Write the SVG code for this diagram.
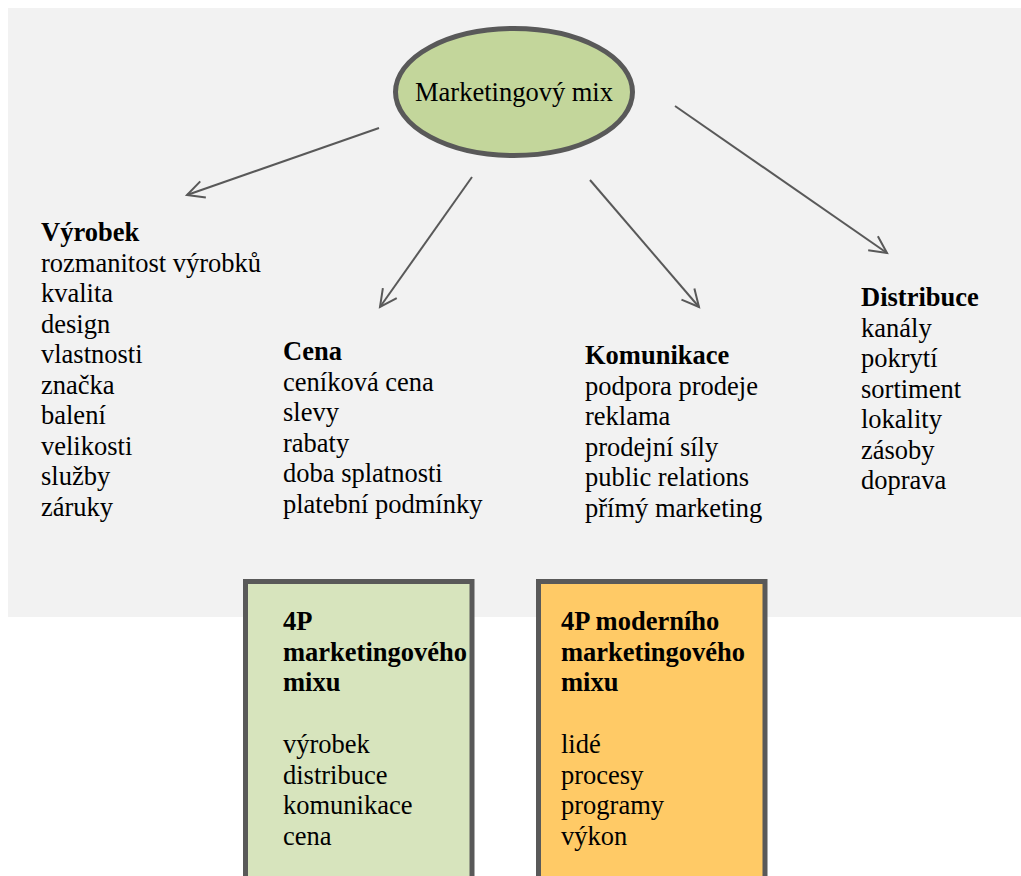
<svg xmlns="http://www.w3.org/2000/svg" width="1021" height="876" viewBox="0 0 1021 876">
<style>
text{font-family:"Liberation Serif","Times New Roman",serif;font-size:26.5px;fill:#000}
.b{font-weight:bold}
.con{stroke:#595959;stroke-width:2;fill:none}
.box{stroke:#595959;stroke-width:5}
</style>
<defs>
<marker id="arr" viewBox="-18 -10 20 20" markerWidth="20" markerHeight="20" refX="0" refY="0" orient="auto" markerUnits="userSpaceOnUse" overflow="visible">
<path d="M-17,-8.5 L0,0 L-17,8.5" fill="none" stroke="#595959" stroke-width="2"/>
</marker>
</defs>
<rect x="0" y="0" width="1021" height="876" fill="#ffffff"/>
<rect id="background" x="8" y="8" width="1013" height="609" fill="#f2f2f2"/>
<g id="connectors">
<line class="con" x1="379" y1="128" x2="187" y2="195" marker-end="url(#arr)"/>
<line class="con" x1="472" y1="177" x2="380" y2="307" marker-end="url(#arr)"/>
<line class="con" x1="590" y1="180" x2="699" y2="307" marker-end="url(#arr)"/>
<line class="con" x1="675" y1="106" x2="887" y2="253" marker-end="url(#arr)"/>
</g>
<g id="root">
<ellipse cx="514" cy="92" rx="118.5" ry="63.5" fill="#c3d69b" stroke="#595959" stroke-width="5"/>
<text x="514" y="101" text-anchor="middle">Marketingový mix</text>
</g>
<g id="vyrobek">
<text x="41" y="241" class="b">Výrobek</text>
<text x="41" y="271.5">rozmanitost výrobků</text>
<text x="41" y="302">kvalita</text>
<text x="41" y="332.5">design</text>
<text x="41" y="363">vlastnosti</text>
<text x="41" y="393.5">značka</text>
<text x="41" y="424">balení</text>
<text x="41" y="454.5">velikosti</text>
<text x="41" y="485">služby</text>
<text x="41" y="515.5">záruky</text>
</g>
<g id="cena">
<text x="283" y="360" class="b">Cena</text>
<text x="283" y="390.5">ceníková cena</text>
<text x="283" y="421">slevy</text>
<text x="283" y="451.5">rabaty</text>
<text x="283" y="482">doba splatnosti</text>
<text x="283" y="512.5">platební podmínky</text>
</g>
<g id="komunikace">
<text x="585" y="364" class="b">Komunikace</text>
<text x="585" y="394.5">podpora prodeje</text>
<text x="585" y="425">reklama</text>
<text x="585" y="455.5">prodejní síly</text>
<text x="585" y="486">public relations</text>
<text x="585" y="516.5">přímý marketing</text>
</g>
<g id="distribuce">
<text x="861" y="306" class="b">Distribuce</text>
<text x="861" y="336.5">kanály</text>
<text x="861" y="367">pokrytí</text>
<text x="861" y="397.5">sortiment</text>
<text x="861" y="428">lokality</text>
<text x="861" y="458.5">zásoby</text>
<text x="861" y="489">doprava</text>
</g>
<g id="box4p">
<rect class="box" x="245.5" y="581.5" width="226.5" height="310" fill="#d7e4bd"/>
<text x="283" y="630" class="b">4P</text>
<text x="283" y="660.5" class="b">marketingového</text>
<text x="283" y="691" class="b">mixu</text>
<text x="283" y="753">výrobek</text>
<text x="283" y="783.5">distribuce</text>
<text x="283" y="814">komunikace</text>
<text x="283" y="844.5">cena</text>
</g>
<g id="box4pmodern">
<rect class="box" x="538.5" y="581.5" width="226.5" height="310" fill="#ffca66"/>
<text x="561" y="630" class="b">4P moderního</text>
<text x="561" y="660.5" class="b">marketingového</text>
<text x="561" y="691" class="b">mixu</text>
<text x="561" y="753">lidé</text>
<text x="561" y="783.5">procesy</text>
<text x="561" y="814">programy</text>
<text x="561" y="844.5">výkon</text>
</g>
</svg>
